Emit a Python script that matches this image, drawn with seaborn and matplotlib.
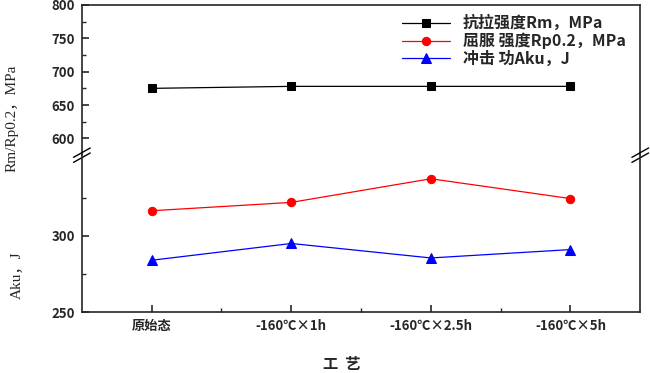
import numpy as np
import matplotlib
matplotlib.use("Agg")
import matplotlib.pyplot as plt
import seaborn as sns

# dati
categories = ['原始态', '-160℃×1h', '-160℃×2.5h', '-160℃×5h']
rm = [675, 678, 678, 678]
rp02 = [316.5, 322, 337.5, 324.5]
aku = [284, 295, 285.5, 291]

sns.set_style("ticks")
plt.rcParams['font.family'] = ['Noto Sans CJK SC', 'DejaVu Sans']
plt.rcParams['axes.linewidth'] = 1.2

x = np.arange(len(categories))

fig = plt.figure(figsize=(6.5, 3.73), dpi=100)
ax_top = fig.add_axes([0.126, 0.584, 0.859, 0.403])
ax_bot = fig.add_axes([0.126, 0.1635, 0.859, 0.4205], sharex=ax_top)

sns.lineplot(x=x, y=rm, ax=ax_top, color='black', marker='s', markersize=6,
             linewidth=0.9, markeredgecolor='black', label='抗拉强度Rm，MPa', legend=False)
sns.lineplot(x=x, y=rp02, ax=ax_bot, color='red', marker='o', markersize=6,
             linewidth=0.9, markeredgecolor='red', label='屈服 强度Rp0.2，MPa', legend=False)
sns.lineplot(x=x, y=aku, ax=ax_bot, color='blue', marker='^', markersize=7,
             linewidth=0.9, markeredgecolor='blue', label='冲击 功Aku，J', legend=False)

ax_top.set_ylim(575, 800)
ax_bot.set_ylim(250, 353)
ax_top.set_xlim(-0.5, 3.5)

ax_top.set_yticks([600, 650, 700, 750, 800])
ax_top.set_yticks([625, 675, 725, 775], minor=True)
ax_bot.set_yticks([250, 300])
ax_bot.set_yticks([275, 325], minor=True)
ax_bot.set_xticks(x)
ax_bot.set_xticks([0.5, 1.5, 2.5], minor=True)
ax_bot.set_xticklabels(categories)

for ax in (ax_top, ax_bot):
    ax.tick_params(which='major', direction='in', length=5, width=1.2,
                   labelsize=9.5, pad=5)
    ax.tick_params(which='minor', direction='in', length=3, width=1.0)
    for lab in ax.get_xticklabels() + ax.get_yticklabels():
        lab.set_fontweight('bold')
    ax.set_xlabel('')
    ax.set_ylabel('')

ax_top.spines['bottom'].set_visible(False)
ax_bot.spines['top'].set_visible(False)
ax_top.tick_params(axis='x', which='both', bottom=False, labelbottom=False)

# segni di interruzione sull'asse
for xs in (0, 1):
    for dy in (-0.016, 0.016):
        ax_bot.plot([xs - 0.015, xs + 0.015], [1 + dy - 0.03, 1 + dy + 0.03],
                    transform=ax_bot.transAxes, color='black', linewidth=1.0,
                    clip_on=False)

handles = ax_top.get_lines()[:1] + ax_bot.get_lines()[:2]
labels = ['抗拉强度Rm，MPa', '屈服 强度Rp0.2，MPa', '冲击 功Aku，J']
ax_top.legend(handles, labels, loc='upper right', frameon=False,
              handlelength=3.0, labelspacing=0.1, bbox_to_anchor=(1.0, 1.03),
              prop={'family': ['Noto Sans CJK SC', 'DejaVu Sans'], 'weight': 'bold', 'size': 11.5})

ylab_font = ['Liberation Serif', 'Noto Sans CJK SC']
fig.text(0.019, 1 - 118 / 373, 'Rm/Rp0.2，MPa', rotation=90, ha='center', va='center',
         fontsize=11, family=ylab_font)
fig.text(0.026, 1 - 275 / 373, 'Aku，J', rotation=90, ha='center', va='center',
         fontsize=11, family=ylab_font)
fig.text(342 / 650, 1 - 364 / 373, '工  艺', ha='center', va='center', fontsize=11,
         fontweight='bold')

fig.savefig('out.png', dpi=100)
